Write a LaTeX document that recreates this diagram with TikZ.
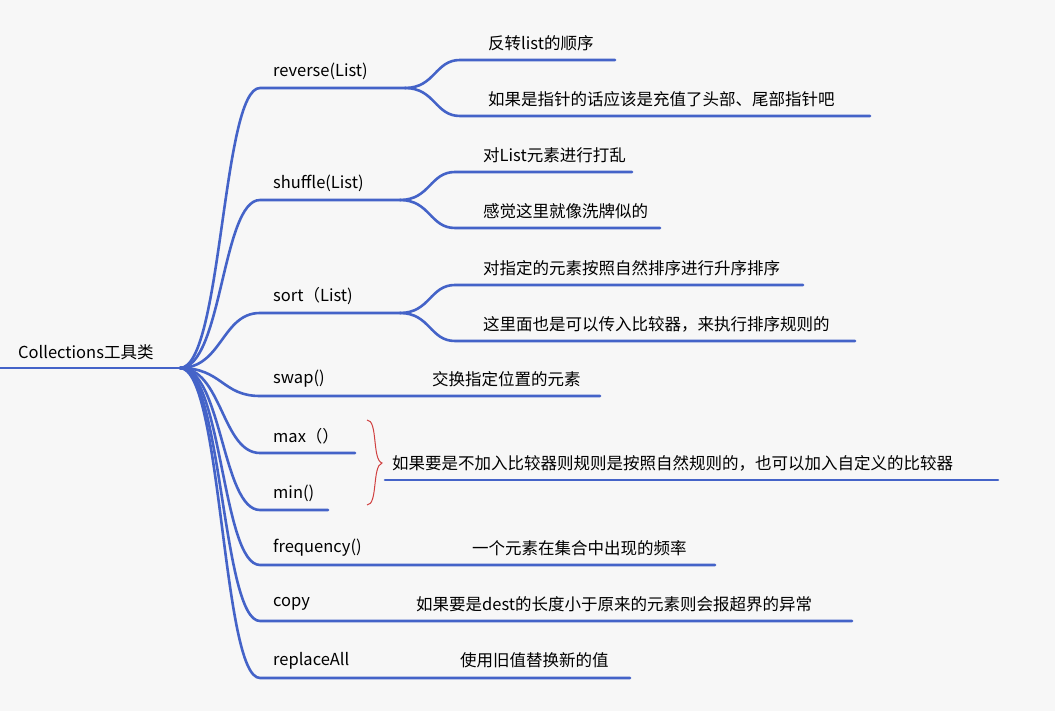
\documentclass[tikz,border=0pt]{standalone}
\usepackage{fontspec}
\setmainfont{Noto Sans CJK SC}
\definecolor{br}{HTML}{4463C8}
\definecolor{bg}{HTML}{F7F7F7}
\definecolor{rb}{HTML}{D04040}
\tikzset{lbl/.style={anchor=west,inner sep=0pt,font=\fontsize{16.5}{18}\selectfont,text=black},
 ln/.style={draw=br,line width=2.6pt,line cap=round}}
\begin{document}
\begin{tikzpicture}[x=1pt,y=-1pt]
\fill[bg] (0,0) rectangle (1055,711);
\useasboundingbox (0,0) rectangle (1055,711);
\coordinate (r) at (180,368);
\node[lbl] (root) at (18,352) {Collections工具类};
\draw[ln] (0,368) -- (r);
\foreach \n/\t/\y/\e in {a/reverse(List)/88/405, b/shuffle(List)/200/400, c/sort（List)/313/400, d/swap()/396/600, e/max（）/453/355, f/min()/510/328, g/frequency()/565/715, h/copy/621/852, i/replaceAll/678/630}{
  \coordinate (\n s) at (260,\y);
  \coordinate (\n e) at (\e,\y);
  \draw[ln] (r) .. controls (222,368) and (222,\y) .. (\n s) -- (\n e);
  \node[lbl] (\n) at (273,\y-17) {\t};
}
\foreach \p/\py/\n/\t/\y/\x/\e in {a/88/a1/反转list的顺序/60/460/615, a/88/a2/如果是指针的话应该是充值了头部、尾部指针吧/116/460/870,
 b/200/b1/对List元素进行打乱/172/455/632, b/200/b2/感觉这里就像洗牌似的/228/455/660,
 c/313/c1/对指定的元素按照自然排序进行升序排序/285/455/803, c/313/c2/这里面也是可以传入比较器，来执行排序规则的/341/455/855}{
  \coordinate (\n s) at (\x,\y);
  \coordinate (\n e) at (\e,\y);
  \draw[ln] (\p e) .. controls (\x-25,\py) and (\x-25,\y) .. (\n s) -- (\n e);
  \node[lbl] (\n) at (\x+28,\y-17) {\t};
}
\node[lbl] (d1) at (432,379) {交换指定位置的元素};
\node[lbl] (g1) at (472,548) {一个元素在集合中出现的频率};
\node[lbl] (h1) at (416,604) {如果要是dest的长度小于原来的元素则会报超界的异常};
\node[lbl] (i1) at (460,660) {使用旧值替换新的值};
\coordinate (ms) at (385,480);
\coordinate (me) at (998,480);
\draw[ln] (ms) -- (me);
\node[lbl] (m1) at (392,463) {如果要是不加入比较器则规则是按照自然规则的，也可以加入自定义的比较器};
\draw[rb,line width=1pt] (367,420) .. controls (378,420) and (372,460) .. (382,463) .. controls (372,466) and (378,505) .. (367,505);
\end{tikzpicture}
\end{document}
